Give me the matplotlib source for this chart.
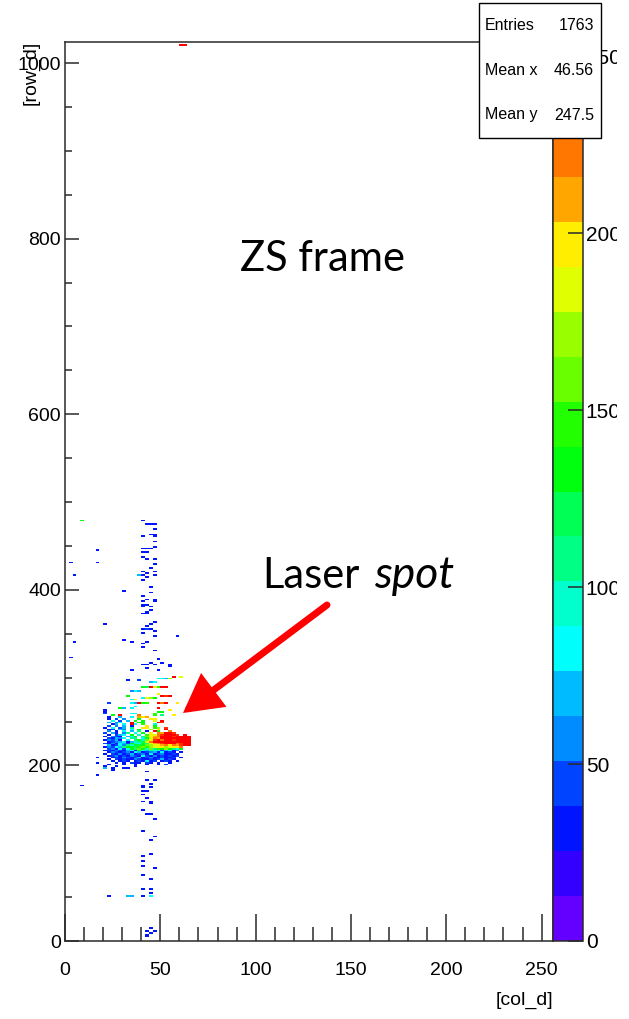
import numpy as np
import matplotlib
matplotlib.use("Agg")
import matplotlib.pyplot as plt
from matplotlib.colors import ListedColormap, BoundaryNorm
from matplotlib.patches import FancyArrowPatch, Rectangle
import colorsys

# ---------------- data ----------------
z_max = 254
n_levels = 20
level_codes = "vibdmlctefghknyYaoRr"   # code letter -> colour level 0..19

x_ticks = [0, 50, 100, 150, 200, 250]
y_ticks = [0, 200, 400, 600, 800, 1000]
z_ticks = [0, 50, 100, 150, 200, 250]

stats_names = ["Entries", "Mean x", "Mean y"]
stats_values = ["1763", "46.56", "247.5"]

# dense laser-spot core, read as a 2-col x 2-row grid (cols 18..66, rows 256..196)
grid_col0 = 18
grid_row_top = 256
grid_rows = [
    "...g.r....o...h.e..Y.....",
    "..b..l..c.aYa............",
    "..b.d.m...g..YY..........",
    "...c.d.l.g.g..y.r........",
    "..l.mc..r.gg...rR........",
    "...bl.c.rc.h..t..........",
    "..d.m.l.b...Y.g..........",
    ".b.c.dl.e..YY.hn.R.......",
    "..bd.lm.c.g..n.Y.r.......",
    "..m.b.c.l.e.b.rg..o......",
    ".d.lb.me.c.g.Y.oarrR.....",
    "..b.dlc.g.t.hYyoRrrrR.r..",
    ".b.mdb.lcg.ekYaorrrRrrrr.",
    "..dblmc.ee.cgyoarrrrrrrr.",
    ".bmdlb.c.egtkYRrorrRrrrr.",
    "..bdmlcbltefyorrrrrrrrrr.",
    ".dbmbcldgtcgeYaoRrrroRrr.",
    "..lbdcmetgfgknyYaoYoaRrr.",
    ".bmdcleggfhkhnyYYnyYyo...",
    "..dmbcdcgekgtkehgngecg...",
    ".bdbmdblcbgcletcdlcbm....",
    "..bmdbdmbclbdmlbcbdb.b...",
    ".b.dbmbdlbdmbcbdmbbdb....",
    "..bdmbdbmdbcdbmbdbdbd....",
    "...bdbmdbdlbdmbbdbbd.b...",
    "..b.dbdbbmdbbdbdlbdb.....",
    "...b.bdb.bdbcbd.bdb.b....",
    "....b.b.dbb.db.b..b......",
    "..b...b..b..b..b.d.......",
    ".b..b....b...............",
    "...b..b..................",
]

# isolated hits (column, row, colour code), written in aligned chunks of ten
sparse_cols = [
    # upper column / left strays
    8, 40, 42, 44, 47, 46, 44, 46, 46, 40,
    47, 46, 43, 45, 40, 40, 42, 43, 16, 41,
    42, 47, 2, 16, 47, 44, 40, 47, 42, 38,
    41, 46, 43, 41, 5, 44, 45, 44, 31, 40,
    41, 42, 41, 46, 47, 41, 43, 40, 44, 45,
    43, 42, 41,
    # middle
    21, 46, 45, 43, 43, 41, 40, 45, 46, 41,
    47, 58, 31, 35, 40, 42, 41, 47, 34, 41,
    43, 46, 45, 49, 50, 54, 55, 43, 49, 4,
    2,
    # coloured streaks above the spot
    20, 20, 21, 22, 28, 30, 34, 36, 48, 34,
    36, 38, 40, 42, 48, 50, 52, 58, 35, 37,
    32, 40, 42, 44, 46, 49, 50, 52, 54, 34,
    36, 38, 40, 42, 44, 46, 48, 50, 52, 44,
    46, 32, 38, 48, 50, 52, 54, 57, 61, 49,
    51, 54, 47, 34, 36,
    # just below the spot
    17, 16, 21, 24, 17, 32, 42,
    # lower column
    9, 42, 47, 45, 40, 41, 45, 43, 41, 40,
    43, 42, 45, 40, 44, 40, 42, 43, 45, 47,
    40, 41, 47, 45, 41, 45, 40, 40, 47, 41,
    45, 41, 44, 45, 23, 33, 34, 40, 45, 45,
    42, 47, 44, 43, 42, 43,
    # top edge
    61, 63,
]
sparse_rows = [
    478, 478, 475, 474, 475, 468, 463, 463, 460, 460,
    455, 448, 446, 446, 446, 442, 442, 442, 445, 437,
    435, 435, 430, 431, 428, 424, 421, 421, 419, 417,
    416, 416, 414, 411, 417, 403, 397, 396, 398, 392,
    392, 388, 386, 386, 388, 382, 383, 380, 380, 377,
    375, 373, 372,
    361, 363, 361, 358, 355, 355, 355, 355, 353, 351,
    346, 346, 342, 340, 339, 340, 334, 331, 309, 315,
    314, 314, 317, 320, 317, 314, 312, 311, 308, 340,
    322,
    260, 262, 258, 270, 264, 264, 264, 266, 264, 270,
    270, 270, 270, 270, 271, 271, 271, 271, 274, 274,
    278, 277, 277, 277, 277, 280, 279, 279, 279, 284,
    284, 284, 288, 288, 288, 288, 289, 289, 289, 294,
    294, 297, 297, 298, 298, 298, 299, 300, 300, 260,
    260, 263, 258, 259, 259,
    208, 203, 196, 195, 189, 196, 192,
    177, 183, 183, 179, 176, 174, 174, 171, 171, 166,
    163, 162, 159, 159, 156, 148, 144, 144, 144, 139,
    125, 125, 118, 114, 97, 99, 90, 85, 82, 74,
    70, 58, 58, 54, 51, 51, 51, 51, 51, 15,
    11, 11, 8, 7, 4, 4,
    1020, 1020,
]
sparse_codes = (
    "gbbbbbbbbb" "bbbbbbbbbb" "bbbbbbbbbl" "bbbbbbbbbb" "bbbbbbbbbb" "bbb"
    "bbbbdbbbbb" "bbbbbbbbbb" "bbbbbbbbbb" "b"
    "bbddglccrc" "lrghrorYcy" "gcYngYrRrm" "clgfrYhrrl" "cbdcclnryg" "gYhcc"
    "bblbbbb"
    "bbbbbbbbbb" "bbbbbbbbbb" "bbbbbbbbbb" "bbbbbllbcb" "bbbbbb"
    "rr"
)

# ---------------- build the 2-D histogram ----------------
cols, rows, codes = [], [], []
for j, line in enumerate(grid_rows):
    r = grid_row_top - 2 * j
    for i, ch in enumerate(line):
        if ch != ".":
            cols.append(grid_col0 + 2 * i)
            rows.append(r)
            codes.append(ch)
n_sp = min(len(sparse_cols), len(sparse_rows), len(sparse_codes))
cols += sparse_cols[:n_sp]
rows += sparse_rows[:n_sp]
codes += list(sparse_codes[:n_sp])

xedges = np.arange(0, 257, 2)
yedges = np.arange(0, 1025, 2)
H = np.full((len(yedges) - 1, len(xedges) - 1), np.nan)
for c, r, ch in zip(cols, rows, codes):
    k = level_codes.index(ch)
    H[int(r) // 2, int(c) // 2] = (k + 0.5) * z_max / n_levels

# ROOT "pretty" palette (violet -> red), 20 contours
pal = []
for k in range(n_levels):
    idx = int((k + 0.99) * 50 / n_levels)
    hue = 280 - (idx + 1) * 5.6
    pal.append(colorsys.hls_to_rgb(hue / 360.0, 0.5, 1.0))
cmap = ListedColormap(pal)
norm = BoundaryNorm(np.linspace(0, z_max, n_levels + 1), n_levels)

# ---------------- figure ----------------
W, Hpx = 629, 1019
fig = plt.figure(figsize=(W / 100, Hpx / 100), dpi=100)
fig.patch.set_facecolor("white")
plt.rcParams["font.family"] = ["Liberation Sans", "DejaVu Sans"]

ax = fig.add_axes([65 / W, 78 / Hpx, 488 / W, 899 / Hpx])
cax = fig.add_axes([553 / W, 78 / Hpx, 30 / W, 899 / Hpx])

mesh = ax.pcolormesh(xedges, yedges, np.ma.masked_invalid(H), cmap=cmap, norm=norm,
                     zorder=3)
ax.set_xlim(0, 256)
ax.set_ylim(0, 1024)
ax.set_xticks(x_ticks)
ax.set_xticks(np.arange(0, 257, 10), minor=True)
ax.set_yticks(y_ticks)
ax.set_yticks(np.arange(0, 1025, 50), minor=True)
frame_col = "#2a2a2a"
for s in ax.spines.values():
    s.set_color(frame_col)
    s.set_linewidth(1.1)
ax.xaxis.set_tick_params(which="major", direction="in", length=19.5, width=1.1,
                         color=frame_col, pad=15, labelsize=14)
ax.xaxis.set_tick_params(which="minor", direction="in", length=10, width=1.1,
                         color=frame_col)
ax.yaxis.set_tick_params(which="major", direction="in", length=10, width=1.1,
                         color=frame_col, pad=3, labelsize=14)
ax.yaxis.set_tick_params(which="minor", direction="in", length=5, width=1.1,
                         color=frame_col)

cb = fig.colorbar(mesh, cax=cax, ticks=z_ticks)
cb.outline.set_edgecolor(frame_col)
cb.outline.set_linewidth(1.1)
cax.tick_params(which="major", direction="in", length=11, width=1.1,
                color=frame_col, pad=2, labelsize=15)
cax.minorticks_off()
# the reference picture is cropped just right of the colour-bar labels
clip_rect = Rectangle((0, 0), 617 / W, 1, transform=fig.transFigure)
for lab in cax.get_yticklabels():
    lab.set_clip_path(clip_rect)
    lab.set_clip_on(True)

fig.text(31 / W, 1 - 41 / Hpx, "[row_d]", rotation=90, ha="center", va="top", fontsize=14)
fig.text(553 / W, 1 - 1000 / Hpx, "[col_d]", ha="right", va="center", fontsize=14)

# stats box
box = Rectangle((479 / W, 1 - 138 / Hpx), 122 / W, 135 / Hpx, transform=fig.transFigure,
                facecolor="white", edgecolor="black", linewidth=1.0, zorder=20)
fig.add_artist(box)
for i, (nm, val) in enumerate(zip(stats_names, stats_values)):
    yy = 1 - (26 + 44.5 * i) / Hpx
    fig.text(485 / W, yy, nm, ha="left", va="center", fontsize=11.5, zorder=21)
    fig.text(594 / W, yy, val, ha="right", va="center", fontsize=11.5, zorder=21)

# annotations
fig.text(240 / W, 1 - 271 / Hpx, "ZS frame", ha="left", va="baseline",
         fontsize=30, family=["Lato", "DejaVu Sans"])
fig.text(262 / W, 1 - 588 / Hpx, "Laser", ha="left", va="baseline",
         fontsize=30, family=["Lato", "DejaVu Sans"])
fig.text(374 / W, 1 - 588 / Hpx, "spot", ha="left", va="baseline",
         fontsize=32, style="italic", family=["Lato", "DejaVu Sans"])
arrow = FancyArrowPatch((327 / W, 1 - 605 / Hpx), (183 / W, 1 - 713 / Hpx),
                        transform=fig.transFigure,
                        arrowstyle="-|>,head_length=1.0,head_width=0.55",
                        mutation_scale=20, linewidth=5, color="#ff0000",
                        shrinkA=0, shrinkB=0, joinstyle="miter", zorder=15)
fig.add_artist(arrow)

fig.savefig("out.png", dpi=100)
